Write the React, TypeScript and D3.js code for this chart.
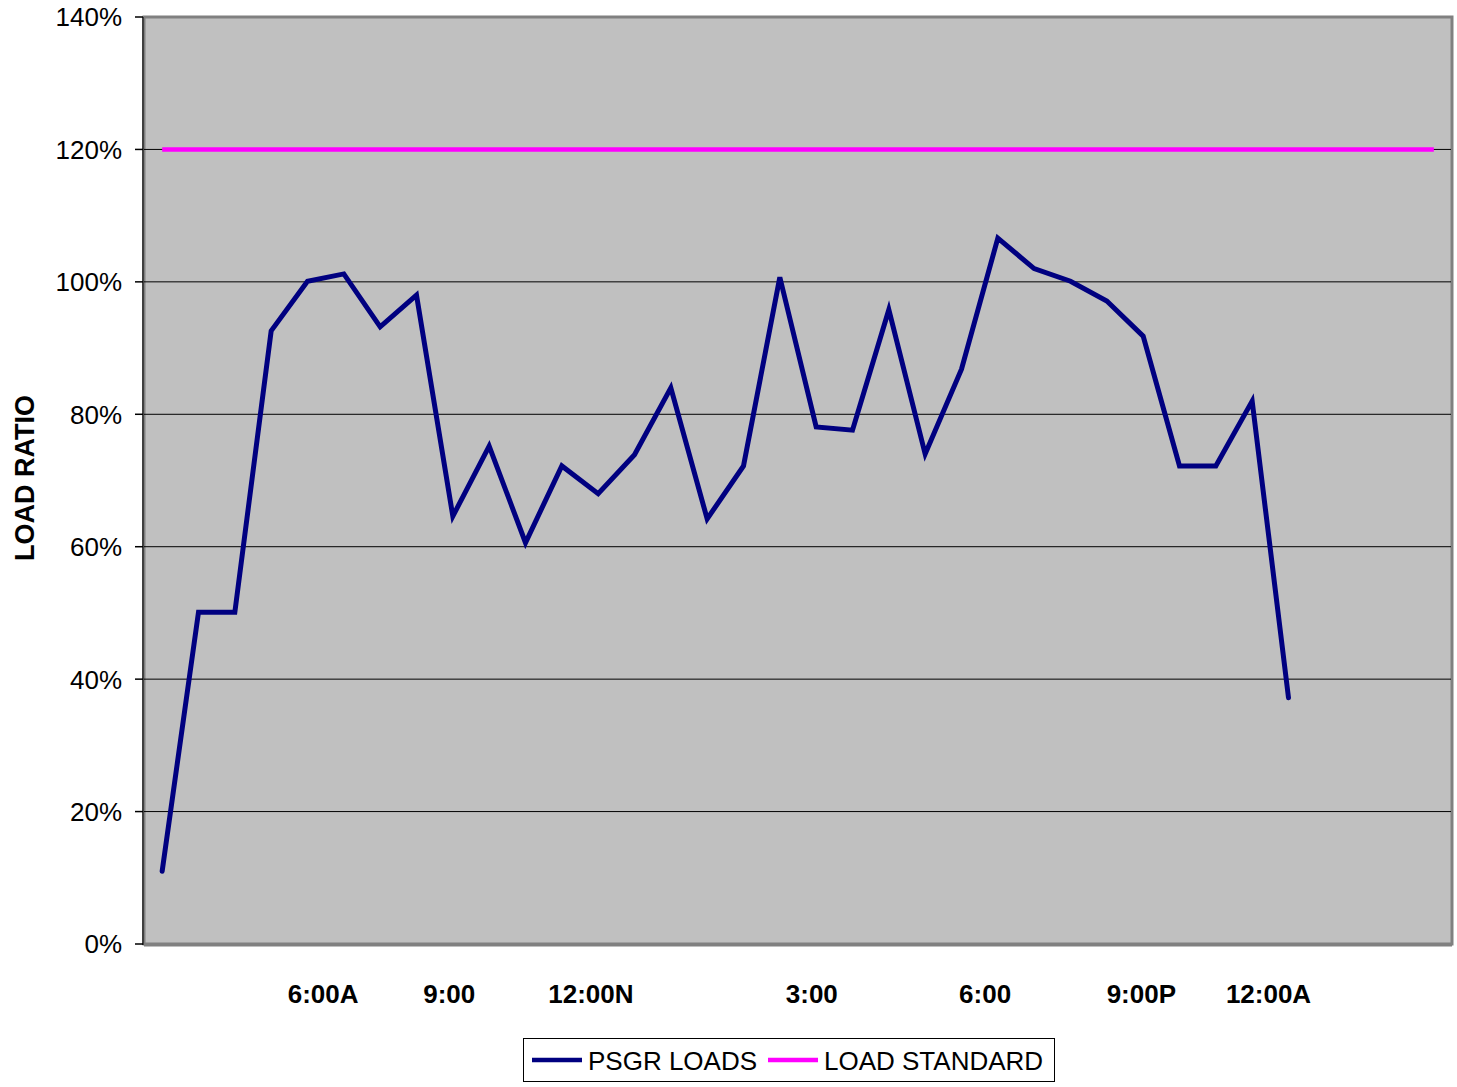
import { useMemo } from "react";
import * as d3 from "d3";

// half-hourly observations, 36 slots on the category axis
const SLOT_COUNT = 36;
const PSGR_LOADS = [
  11.0, 50.1, 50.1, 92.6, 100.1, 101.2, 93.2, 98.0, 64.6, 75.2, 60.6, 72.2,
  68.0, 73.9, 84.0, 64.2, 72.2, 100.7, 78.1, 77.6, 95.8, 74.0, 86.8, 106.6,
  102.0, 100.1, 97.1, 91.8, 72.2, 72.2, 82.0, 37.2,
];
const LOAD_STANDARD = Array.from({ length: SLOT_COUNT }, () => 120);

const Y_TICKS = [0, 20, 40, 60, 80, 100, 120, 140];
const X_TICK_LABELS = ["6:00A", "9:00", "12:00N", "3:00", "6:00", "9:00P", "12:00A"];
const X_TICK_AT = [4.43, 7.9, 11.8, 17.88, 22.65, 26.95, 30.45];

const SERIES = [
  { name: "PSGR LOADS", color: "#000080" },
  { name: "LOAD STANDARD", color: "#FF00FF" },
];

export default function App() {
  const width = 1457;
  const height = 1087;
  const plot = { left: 144, right: 1452, top: 17, bottom: 944 };
  const font = "Arial, 'Liberation Sans', Helvetica, sans-serif";

  const x = useMemo(
    () =>
      d3
        .scaleBand<number>()
        .domain(d3.range(SLOT_COUNT))
        .range([plot.left, plot.right]),
    // eslint-disable-next-line react-hooks/exhaustive-deps
    []
  );
  const xc = (i: number) => plot.left + (i + 0.5) * x.step();

  const y = d3.scaleLinear().domain([0, 140]).range([plot.bottom, plot.top]);

  const line = d3
    .line<number>()
    .x((_, i) => xc(i))
    .y((d) => y(d));

  return (
    <div style={{ position: "fixed", left: 0, top: 0, background: "#fff" }}>
      <svg width={width} height={height} style={{ display: "block" }} fontFamily={font}>
        <rect x={0} y={0} width={width} height={height} fill="#fff" />

        {/* plot area */}
        <rect
          x={plot.left}
          y={plot.top}
          width={plot.right - plot.left}
          height={plot.bottom - plot.top}
          fill="#C0C0C0"
          stroke="#808080"
          strokeWidth={3}
        />

        {/* gridlines */}
        {Y_TICKS.filter((t) => t > 0 && t < 140).map((t) => (
          <line
            key={t}
            x1={plot.left}
            x2={plot.right - 1}
            y1={y(t)}
            y2={y(t)}
            stroke="#000"
            strokeWidth={1}
          />
        ))}

        {/* axes */}
        <line x1={plot.left - 1} x2={plot.left - 1} y1={plot.top} y2={plot.bottom + 1} stroke="#404040" strokeWidth={2} />
        <line x1={plot.left} x2={plot.right} y1={plot.bottom + 1} y2={plot.bottom + 1} stroke="#808080" strokeWidth={3} />

        {Y_TICKS.map((t) => (
          <g key={t}>
            <line x1={plot.left - 9} x2={plot.left - 1} y1={y(t)} y2={y(t)} stroke="#000" strokeWidth={1.5} />
            <text
              x={122}
              y={y(t)}
              dy="0.36em"
              textAnchor="end"
              fontSize={26}
              fill="#000"
            >
              {t}%
            </text>
          </g>
        ))}

        {X_TICK_LABELS.map((lab, i) => (
          <text
            key={lab}
            x={xc(X_TICK_AT[i])}
            y={1003}
            textAnchor="middle"
            fontSize={26}
            fontWeight="bold"
            fill="#000"
          >
            {lab}
          </text>
        ))}

        <text
          transform={`translate(34,478) rotate(-90)`}
          textAnchor="middle"
          fontSize={27}
          fontWeight="bold"
          fill="#000"
        >
          LOAD RATIO
        </text>

        {/* series */}
        <path d={line(LOAD_STANDARD) ?? ""} fill="none" stroke={SERIES[1].color} strokeWidth={4.5} />
        <path
          d={line(PSGR_LOADS) ?? ""}
          fill="none"
          stroke={SERIES[0].color}
          strokeWidth={5}
          strokeLinejoin="miter"
          strokeLinecap="round"
        />

        {/* legend */}
        <rect x={523.5} y={1038.5} width={531} height={43} fill="#fff" stroke="#000" strokeWidth={1} />
        {SERIES.map((s, i) => {
          const ox = i === 0 ? 532 : 768;
          return (
            <g key={s.name}>
              <line x1={ox} x2={ox + 50} y1={1060} y2={1060} stroke={s.color} strokeWidth={4.5} />
              <text x={ox + 56} y={1061} dy="0.36em" fontSize={26} fill="#000">
                {s.name}
              </text>
            </g>
          );
        })}
      </svg>
    </div>
  );
}
